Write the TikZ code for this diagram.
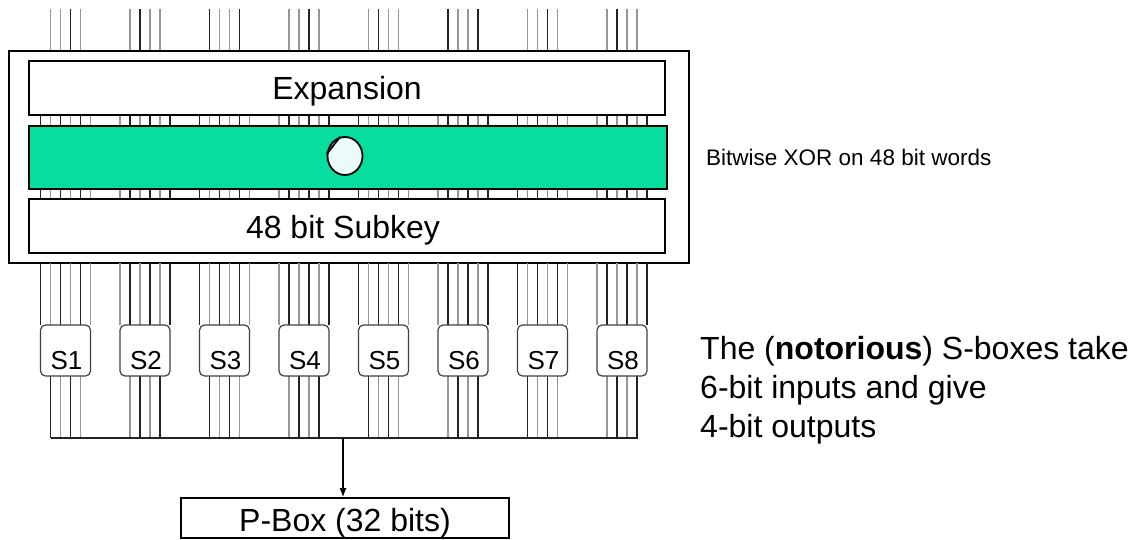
\documentclass[tikz,border=0pt]{standalone}
\usepackage{fontspec}
\setmainfont{Liberation Sans}
\usetikzlibrary{arrows.meta,shapes.geometric}
\definecolor{xorgreen}{RGB}{8,221,160}
\definecolor{wiredark}{RGB}{35,35,35}
\definecolor{wirelight}{RGB}{150,150,150}
\definecolor{xorwhite}{RGB}{235,250,250}
\begin{document}
\begin{tikzpicture}[x=1pt,y=-1pt,
  box/.style={draw=black, line width=1.6pt, fill=white, inner sep=0pt},
  greenbox/.style={draw=black, line width=1.6pt, fill=xorgreen, inner sep=0pt},
  sbox/.style={draw=black!75, line width=1.2pt, rounded corners=5pt, fill=white, inner sep=0pt, minimum width=50pt, minimum height=51pt},
  wire/.style={line width=1.2pt},
  bigtext/.style={font=\fontsize{32}{38}\selectfont, inner sep=0pt, anchor=base},
  sidetext/.style={font=\fontsize{32}{38}\selectfont, inner sep=0pt, anchor=base west},
  stext/.style={font=\fontsize{26}{30}\selectfont, inner sep=0pt, anchor=base},
]
\useasboundingbox (0,0) rectangle (1139,540);

% top input wires
\foreach \k in {0,...,7}{
  \foreach \j in {1,...,4}{
    \pgfmathtruncatemacro\c{mod(\k+\j,3)}
    \ifnum\c=0 \def\wc{wiredark}\else\def\wc{wirelight}\fi
    \draw[wire,\wc] ({40.5+79.5*\k+10*\j},9) -- ({40.5+79.5*\k+10*\j},51);
  }
}

% outer box
\node[box, minimum width=680pt, minimum height=212pt] (outer) at (349,157) {};

% short ticks between inner boxes
\foreach \k in {0,...,7}{
  \foreach \j in {0,...,5}{
    \pgfmathtruncatemacro\c{mod(\k+\j,2)}
    \ifnum\c=0 \def\wc{wiredark}\else\def\wc{wirelight}\fi
    \draw[wire,\wc] ({40.5+79.5*\k+10*\j},114) -- ({40.5+79.5*\k+10*\j},127);
    \draw[wire,\wc] ({40.5+79.5*\k+10*\j},188) -- ({40.5+79.5*\k+10*\j},200);
  }
}

% inner boxes
\node[box, minimum width=636pt, minimum height=54pt] (exp) at (347,88) {};
\node[greenbox, minimum width=638pt, minimum height=63pt] (xor) at (348,157.5) {};
\node[box, minimum width=636pt, minimum height=54pt] (sub) at (347,226) {};
\node[bigtext] (explabel) at (347,100) {Expansion};
\node[bigtext] (sublabel) at (343,238) {48 bit Subkey};

% XOR symbol
\node[draw=black, line width=1.8pt, fill=xorwhite, ellipse, minimum width=35pt, minimum height=38pt, inner sep=0pt] (xorsym) at (345,156) {};
\draw[line width=1.8pt] (xorsym.174) -- (xorsym.104);

% S-box input wires
\foreach \k in {0,...,7}{
  \foreach \j in {0,...,5}{
    \pgfmathtruncatemacro\c{mod(\k+\j,2)}
    \ifnum\c=0 \def\wc{wiredark}\else\def\wc{wirelight}\fi
    \draw[wire,\wc] ({40.5+79.5*\k+10*\j},263) -- ({40.5+79.5*\k+10*\j},325);
  }
}
% S-box output wires
\foreach \k in {0,...,7}{
  \foreach \j in {1,...,4}{
    \pgfmathtruncatemacro\c{mod(\k+\j+1,2)}
    \ifnum\c=0 \def\wc{wiredark}\else\def\wc{wirelight}\fi
    \draw[wire,\wc] ({40.5+79.5*\k+10*\j},376) -- ({40.5+79.5*\k+10*\j},438);
  }
}

% S-boxes
\foreach \k [evaluate=\k as \n using int(\k+1)] in {0,...,7}{
  \node[sbox] (s\n) at ({65.5+79.5*\k},350.5) {};
  \node[stext] (s\n label) at ({66.5+79.5*\k},369) {S\n};
}

% bus
\coordinate (busL) at (50.5,438);
\coordinate (busR) at (637.5,438);
\draw[line width=1.4pt, wiredark] (busL) -- (busR);

% P-box
\node[box, minimum width=328pt, minimum height=40pt] (pbox) at (345,518) {};
\node[bigtext] (plabel) at (345,531) {P-Box (32 bits)};
\coordinate (busmid) at (343,438);
\draw[line width=1.2pt, -{Latex[length=9pt,width=7pt]}] (busmid) -- (busmid |- pbox.north);

% side texts
\node[font=\fontsize{22.5}{27}\selectfont, inner sep=0pt, anchor=base west] (xortext) at (706,166) {Bitwise XOR on 48 bit words};
\node[sidetext] (t1) at (700,359) {The (\textbf{notorious}) S-boxes take};
\node[sidetext] (t2) at (700,398) {6-bit inputs and give};
\node[sidetext] (t3) at (700,437) {4-bit outputs};
\end{tikzpicture}
\end{document}
